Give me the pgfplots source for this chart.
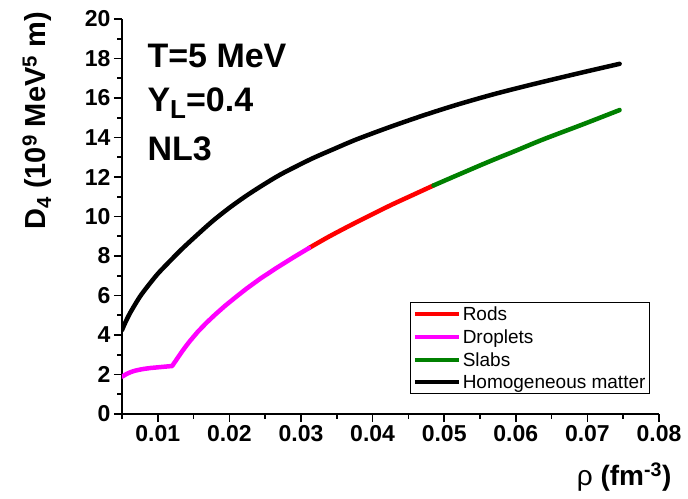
\documentclass[border=0pt]{standalone}
\usepackage{pgfplots}
\pgfplotsset{compat=1.18}
\usepackage{fontspec}
\setmainfont{Liberation Sans}
\definecolor{mgreen}{RGB}{0,128,0}
\definecolor{mmag}{RGB}{255,0,255}
\definecolor{mred}{RGB}{255,0,0}
\begin{document}
\begin{tikzpicture}
\path[use as bounding box] (-122pt,-84pt) rectangle (566pt,414pt);
\begin{axis}[
  at={(0pt,0pt)}, anchor=south west,
  scale only axis, width=537pt, height=395pt,
  xmin=0.005, xmax=0.08, ymin=0, ymax=20,
  axis x line=bottom, axis y line=left,
  axis line style={-, line width=1.6pt},
  xtick={0.01,0.02,0.03,0.04,0.05,0.06,0.07,0.08},
  xticklabels={0.01,0.02,0.03,0.04,0.05,0.06,0.07,0.08},
  minor xtick={0.005,0.015,0.025,0.035,0.045,0.055,0.065,0.075},
  ytick={0,2,4,6,8,10,12,14,16,18,20},
  yticklabels={0,2,4,6,8,10,12,14,16,18,20},
  minor ytick={1,3,5,7,9,11,13,15,17,19},
  scaled x ticks=false, scaled y ticks=false,
  tick align=outside,
  major tick length=8pt, minor tick length=4.5pt,
  every tick/.style={black, line width=1.6pt},
  ticklabel style={font=\bfseries\fontsize{23}{23}\selectfont},
  /pgf/number format/assume math mode=true,
  xlabel={ρ \textbf{(fm\textsuperscript{-3})}},
  xlabel style={font=\fontsize{28}{28}\selectfont, at={(axis description cs:0.935,-0.16)}, anchor=center},
  ylabel={D\textsubscript{4} (10\textsuperscript{9} MeV\textsuperscript{5} m)},
  ylabel style={font=\bfseries\fontsize{29}{29}\selectfont, at={(axis description cs:-0.158,0.742)}, anchor=center},
  legend style={at={(axis description cs:0.983,0.0506)}, anchor=south east,
    font=\fontsize{19}{22}\selectfont, draw=black, line width=0.8pt,
    inner sep=2pt, row sep=3.5pt, cells={anchor=west}},
  legend image code/.code={\draw[#1, line width=4pt, line cap=butt] (0pt,0pt) -- (44pt,0pt);},
  every axis plot/.append style={line width=4.5pt, line cap=round, line join=round},
]
\addplot[mred, smooth] coordinates {
(0.0311,8.40) (0.0340,9.00) (0.0378,9.72) (0.0424,10.55) (0.0455,11.07) (0.0485,11.57)
};
\addlegendentry{Rods}
\addplot[mmag] coordinates {
(0.0050,1.89) (0.0056,2.02) (0.0062,2.12) (0.0068,2.19) (0.0074,2.24) (0.0080,2.28)
(0.0090,2.33) (0.0105,2.38) (0.0120,2.43)
(0.0127,2.80) (0.0133,3.12) (0.0139,3.42) (0.0145,3.70) (0.0156,4.17) (0.0168,4.62)
(0.0180,5.03) (0.0194,5.48) (0.0210,5.95) (0.0224,6.35) (0.0243,6.85)
(0.0266,7.40) (0.0289,7.92) (0.0311,8.40)
};
\addlegendentry{Droplets}
\addplot[mgreen, smooth] coordinates {
(0.0485,11.57) (0.0520,12.12) (0.0564,12.80) (0.0600,13.33) (0.0638,13.90) (0.0694,14.67) (0.0745,15.39)
};
\addlegendentry{Slabs}
\addplot[black, smooth] coordinates {
(0.0050,4.25) (0.0055,4.66) (0.0062,5.16) (0.0075,5.94) (0.0087,6.52) (0.0100,7.10)
(0.0115,7.67) (0.0133,8.33) (0.0155,9.07) (0.0177,9.78) (0.0200,10.44) (0.0224,11.06)
(0.0248,11.62) (0.0271,12.12) (0.0294,12.55) (0.0317,12.96) (0.0348,13.45) (0.0378,13.91)
(0.0424,14.53) (0.0471,15.12) (0.0517,15.65) (0.0564,16.14) (0.0600,16.48) (0.0638,16.82)
(0.0690,17.27) (0.0745,17.73)
};
\addlegendentry{Homogeneous matter}
\node[anchor=base west, font=\bfseries\fontsize{34}{34}\selectfont] at (axis description cs:0.041,0.878) {T=5 MeV};
\node[anchor=base west, font=\bfseries\fontsize{34}{34}\selectfont] at (axis description cs:0.041,0.767) {Y\raisebox{-7pt}{\fontsize{26}{26}\selectfont L}=0.4};
\node[anchor=base west, font=\bfseries\fontsize{34}{34}\selectfont] at (axis description cs:0.041,0.643) {NL3};
\end{axis}
\end{tikzpicture}
\end{document}
